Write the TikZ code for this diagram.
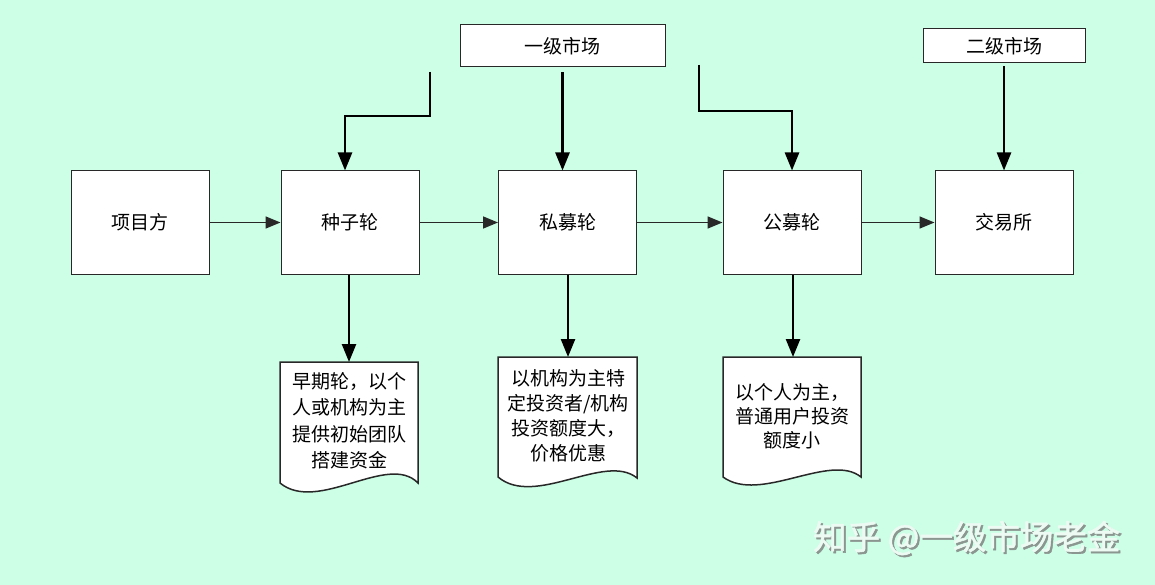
\documentclass[tikz,border=0pt]{standalone}
\usepackage{fontspec}
\newfontfamily\cjk{Noto Sans CJK SC}
\newfontfamily\cjkb[FakeBold=1.5]{Noto Sans CJK SC}
\usetikzlibrary{arrows.meta}
\definecolor{bg}{RGB}{204,255,230}
\definecolor{edge}{RGB}{40,40,40}
\definecolor{wmtext}{RGB}{236,250,243}
\definecolor{wmshadow}{RGB}{140,150,145}
\begin{document}
\begin{tikzpicture}[x=1pt,y=-1pt,
  box/.style={draw=edge, line width=1pt, fill=white, minimum width=138pt, minimum height=103pt, inner sep=0pt, font=\cjk\fontsize{19}{22}\selectfont},
  topbox/.style={draw=edge, line width=1pt, fill=white, inner sep=0pt, font=\cjk\fontsize{19}{22}\selectfont},
  doc/.style={draw=edge, line width=1.5pt, fill=white},
  doctext/.style={align=center, inner sep=0pt},
  harrow/.style={-{Triangle[length=15pt,width=12pt]}, line width=1.5pt, draw=edge},
  varrow/.style={-{Triangle[length=18pt,width=14pt]}, line width=2.5pt, draw=black},
  wm/.style={anchor=west, inner sep=0pt, font=\cjkb\fontsize{33.5}{36}\selectfont}
]
\fill[bg] (0,0) rectangle (1155,585);
\useasboundingbox (0,0) rectangle (1155,585);

% main boxes
\node[box] (xm) at (140,222.5) {项目方};
\node[box] (zz) at (350,222.5) {种子轮};
\node[box] (sm) at (567.5,222.5) {私募轮};
\node[box] (gm) at (792,222.5) {公募轮};
\node[box] (jy) at (1004,222.5) {交易所};

% top boxes
\node[topbox, minimum width=205pt, minimum height=42pt] (yj) at (562.5,46) {一级市场};
\node[topbox, minimum width=162pt, minimum height=34pt] (ej) at (1004,46) {二级市场};

% horizontal arrows
\draw[harrow] (xm.east) -- (zz.west);
\draw[harrow] (zz.east) -- (sm.west);
\draw[harrow] (sm.east) -- (gm.west);
\draw[harrow] (gm.east) -- (jy.west);

% top arrows
\coordinate (e1) at (430,72);
\coordinate (e2) at (699,65);
\draw[varrow] (e1) -- (430,116) -| ([xshift=-5pt]zz.north);
\draw[varrow] ([yshift=-5pt]yj.south) -- (yj.south |- sm.north);
\draw[varrow] (e2) -- (699,111) -| (gm.north);
\draw[varrow] ([yshift=-3pt]ej.south) -- (jy.north);

% documents
\draw[doc] (280,483) -- (280,362) -- (418,362) -- (418,483)
  .. controls (388,452) and (318,514) .. (280,483) -- cycle;
\draw[doc] (498,477) -- (498,357) -- (637,357) -- (637,478)
  .. controls (605,452) and (535,508) .. (498,477) -- cycle;
\draw[doc] (723,477) -- (723,357) -- (861,357) -- (861,477)
  .. controls (830,452) and (760,504) .. (723,477) -- cycle;

\coordinate (d1top) at (349,362);
\coordinate (d2top) at (568,357);
\coordinate (d3top) at (793,357);
\draw[varrow] ([xshift=-1pt]zz.south) -- (d1top);
\draw[varrow] ([xshift=0.5pt]sm.south) -- (d2top);
\draw[varrow] ([xshift=1pt]gm.south) -- (d3top);

\node[doctext, font=\cjk\fontsize{19}{26.5}\selectfont] (t1) at (349.5,421) {早期轮，以个\\人或机构为主\\提供初始团队\\搭建资金};
\node[doctext, font=\cjk\fontsize{19}{25}\selectfont] (t2) at (568,415.5) {以机构为主特\\定投资者/机构\\投资额度大，\\价格优惠};
\node[doctext, font=\cjk\fontsize{19}{24}\selectfont] (t3) at (792,416) {以个人为主，\\普通用户投资\\额度小};

% watermark
\node[wm, text=wmshadow] (wms) at (815,540) {知乎 @一级市场老金};
\node[wm, text=wmtext] (wmt) at (813,538) {知乎 @一级市场老金};
\end{tikzpicture}
\end{document}
